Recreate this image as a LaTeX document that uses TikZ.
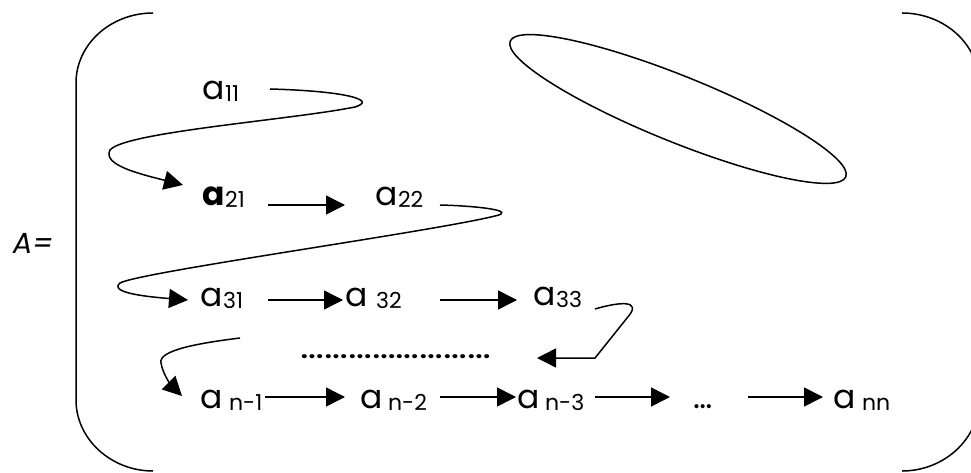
\documentclass[tikz,border=0pt]{standalone}
\usepackage{fontspec}
\setmainfont{Poppins}
\usetikzlibrary{arrows.meta}
\newcommand\subtxt[1]{\raisebox{-2pt}{\fontsize{22}{22}\selectfont #1}}
\begin{document}
\begin{tikzpicture}[x=1pt,y=-1pt,line width=1.5pt,
  lbl/.style={anchor=base west,inner sep=0pt,font=\fontsize{33}{33}\selectfont},
  arr/.style={-{Triangle[length=19pt,width=19pt]}}]
\useasboundingbox (0,0) rectangle (971,473);
\clip (0,0) rectangle (971,473);
% brackets
\draw (153,13) .. controls (111,13) and (76,44) .. (76,83) -- (76,400) .. controls (76,439) and (111,471) .. (153,471);
\draw (902,13) .. controls (944,13) and (979,44) .. (979,83) -- (979,400) .. controls (979,439) and (944,471) .. (902,471);
% ellipse
\draw[rotate around={-22:(678,109)}] (678,109) ellipse [x radius=181,y radius=33];
% labels
\node[lbl,font=\fontsize{29}{29}\selectfont] (A) at (12,253) {\itshape A=};
\node[lbl] (a11) at (202,100) {a\subtxt{11}};
\node[lbl] (a21) at (202,205) {\textbf{a}\subtxt{21}};
\node[lbl] (a22) at (375,205) {a\subtxt{22}};
\node[lbl] (a31) at (200,306) {a\subtxt{31}};
\node[lbl] (a32) at (345,306) {a\hspace{8pt}\subtxt{32}};
\node[lbl] (a33) at (533,305) {a\subtxt{33}};
\node[lbl] (dotrow) at (300,358) {\scalebox{1.24}[1]{……………………}};
\node[lbl] (an1) at (200,408) {a\hspace{6pt}\subtxt{n-1}};
\node[lbl] (an2) at (360,408) {a\hspace{5pt}\subtxt{n-2}};
\node[lbl] (an3) at (517,408) {a\hspace{5pt}\subtxt{n-3}};
\node[lbl] (el) at (693,408) {…};
\node[lbl] (ann) at (833,408) {a\hspace{6pt}\subtxt{nn}};
\coordinate (c4) at (240,338);
% straight arrows
\draw[arr] ([shift={(66,0)}]a21.base west) -- ([shift={(-30,0)}]a22.base west);
\draw[arr] ([shift={(68,-6)}]a31.base west) -- ([shift={(-2,-6)}]a32.base west);
\draw[arr] ([shift={(95,-6)}]a32.base west) -- ([shift={(-16,-5)}]a33.base west);
\draw[arr] ([shift={(65,-11)}]an1.base west) -- ([shift={(-15,-11)}]an2.base west);
\draw[arr] ([shift={(80,-11)}]an2.base west) -- ([shift={(-1,-11)}]an3.base west);
\draw[arr] ([shift={(78,-11)}]an3.base west) -- ([shift={(-23,-11)}]el.base west);
\draw[arr] ([shift={(55,-11)}]el.base west) -- ([shift={(-10,-11)}]ann.base west);
% curved arrows
\draw[arr] ([shift={(68,-11)}]a11.base west) .. controls (345,91) and (378,100) .. (355,107)
  .. controls (290,120) and (125,132) .. (110,150)
  .. controls (102,165) and (140,174) .. ([shift={(-19,-20)}]a21.base west);
\draw[arr] ([shift={(65,0)}]a22.base west) .. controls (480,206) and (518,211) .. (495,216)
  .. controls (430,232) and (140,272) .. (120,283)
  .. controls (108,293) and (150,297) .. ([shift={(-12,-6)}]a31.base west);
\draw[arr] ([shift={(62,4)}]a33.base west) .. controls (615,303) and (645,298) .. (627,318)
  -- (595,358) -- ([shift={(237,0)}]dotrow.base west);
\draw[arr] (c4) .. controls (200,343) and (158,350) .. (161,363)
  .. controls (163,375) and (172,386) .. ([shift={(-18,-12)}]an1.base west);
\end{tikzpicture}
\end{document}
